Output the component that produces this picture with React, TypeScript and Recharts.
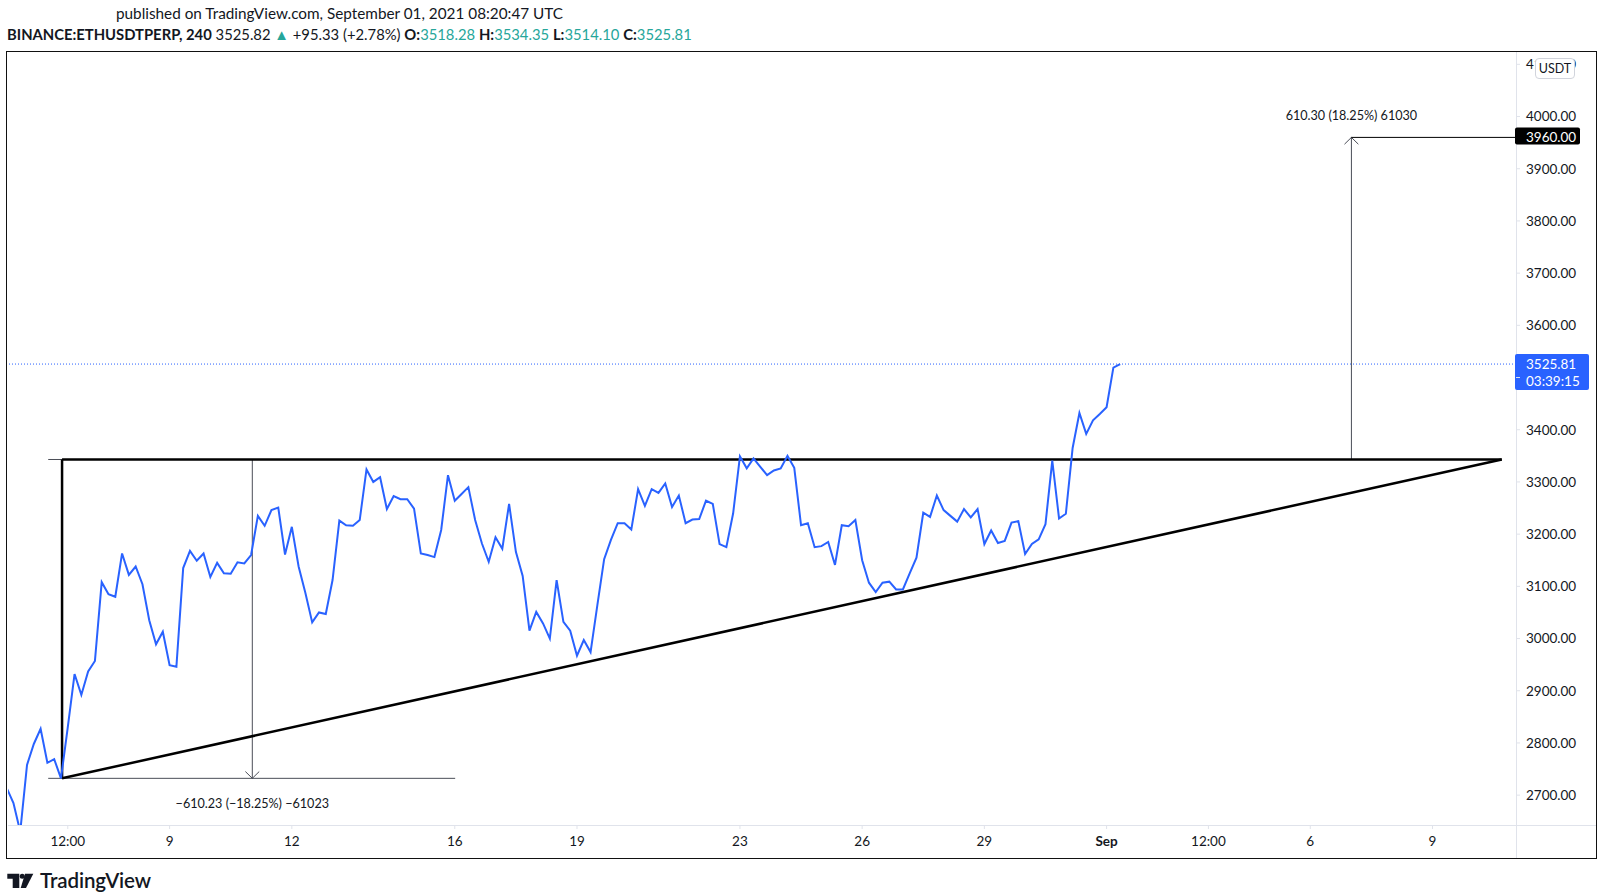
import { LineChart, Line, XAxis, YAxis, ReferenceLine, ReferenceDot } from 'recharts'

// ETHUSDTPERP 4h closes, Aug 5 00:00 -> Sep 1 08:00 (UTC)
const START_DAY = 4 // days since Aug 1
const STEP = 1 / 6 // 4 hours

const closes = [
  2714, 2685, 2630, 2758, 2798, 2827, 2762, 2769, 2732, 2830,
  2932, 2892, 2937, 2957, 3108, 3085, 3080, 3163, 3122, 3138,
  3104, 3035, 2989, 3013, 2949, 2946, 3135, 3168, 3149, 3163,
  3118, 3145, 3125, 3124, 3146, 3144, 3160, 3235, 3216, 3246,
  3251, 3161, 3214, 3138, 3087, 3031, 3050, 3047, 3112, 3226,
  3217, 3216, 3227, 3324, 3300, 3309, 3248, 3273, 3267, 3267,
  3249, 3163, 3160, 3156, 3208, 3313, 3264, 3277, 3290, 3227,
  3182, 3147, 3194, 3172, 3258, 3166, 3120, 3015, 3051, 3029,
  3000, 3112, 3032, 3015, 2967, 2997, 2974, 3064, 3152, 3189,
  3221, 3221, 3209, 3286, 3254, 3286, 3279, 3297, 3252, 3274,
  3221, 3228, 3229, 3264, 3258, 3181, 3175, 3240, 3349, 3326,
  3345, 3329, 3313, 3322, 3326, 3350, 3327, 3217, 3221, 3175,
  3177, 3185, 3141, 3217, 3215, 3227, 3150, 3107, 3089, 3107,
  3109, 3094, 3094, 3125, 3155, 3241, 3233, 3274, 3246, 3235,
  3224, 3248, 3232, 3248, 3181, 3207, 3183, 3187, 3222, 3225,
  3162, 3181, 3190, 3219, 3341, 3230, 3239, 3365, 3432, 3392,
  3418, 3430, 3443, 3519, 3525.81,
]

const xTicks = [5.5, 8, 11, 15, 18, 22, 25, 28, 31, 33.5, 36, 39]
const xTickLabels = ['12:00', '9', '12', '16', '19', '23', '26', '29', 'Sep', '12:00', '6', '9']
const yTicks = [2700, 2800, 2900, 3000, 3100, 3200, 3300, 3400, 3500, 3600, 3700, 3800, 3900, 4000, 4100]

// drawings (time in days since Aug 1, price in USDT)
const LAST_PRICE = 3525.81
const RESISTANCE = 3343
const TRI_LOW = 2732.2
const TRI_LEFT = 5.36
const TRI_RIGHT = 40.7
const DOWN_X = 10.03
const DOWN_FROM = 5.02
const DOWN_TO = 15.01
const UP_X = 37.01
const TARGET = 3960

const X_DOMAIN: [number, number] = [4.033, 41.05]
const Y_DOMAIN: [number, number] = [2642.8, 4123.6]

const data = closes.map((c, i) => ({ t: START_DAY + i * STEP, close: c }))

const FONT = 'Lato, "Noto Sans", sans-serif'
const TEXT = '#131722'
const GRID = '#e0e3eb'
const BLUE = '#2962ff'
const TEAL = '#26a69a'
const MEASURE = '#4a4d57'

const TimeTick = (props: any) => {
  const { x, y, payload } = props
  const i = xTicks.indexOf(payload.value)
  const label = i >= 0 ? xTickLabels[i] : ''
  return (
    <text x={x} y={y} dy="0.71em" textAnchor="middle" fontSize={13.5} fill={TEXT}
      fontWeight={label === 'Sep' ? 700 : 400} fontFamily={FONT}>
      {label}
    </text>
  )
}

// price labels hidden under the last-price tag are not drawn
const PriceTick = (props: any) => {
  const { x, y, payload } = props
  if (Math.abs(payload.value - LAST_PRICE) < 40) return <g />
  return (
    <text x={x} y={y} dy="0.36em" fontSize={13.5} fill={TEXT} fontFamily={FONT}>
      {payload.value.toFixed(2)}
    </text>
  )
}

const PriceTag = (props: any) => {
  const { viewBox, lines, bg } = props
  const x = viewBox.x + viewBox.width
  const y = viewBox.y
  const h = lines.length > 1 ? 36 : 17
  return (
    <g>
      <line x1={x} x2={x + 4} y1={y} y2={y} stroke={bg} />
      <rect x={x - 1} y={y - 10} width={lines.length > 1 ? 74 : 65} height={h} rx={2} fill={bg} />
      {lines.map((l: string, i: number) => (
        <text key={i} x={x + 10} y={y + i * 17} dy="0.36em" fontSize={13.5} fill="#fff" fontFamily={FONT}>
          {l}
        </text>
      ))}
    </g>
  )
}

const MeasureText = (props: any) => {
  const { viewBox, text, dy } = props
  return (
    <text x={viewBox.x + viewBox.width / 2} y={viewBox.y + viewBox.height / 2 + dy} dy="0.36em"
      textAnchor="middle" fontSize={12.6} fill={TEXT} fontFamily={FONT}>
      {text}
    </text>
  )
}

const seg = (x1: number, y1: number, x2: number, y2: number) => [
  { x: x1, y: y1 },
  { x: x2, y: y2 },
]

export default function App() {
  return (
    <div style={{ position: 'absolute', left: 0, top: 0, width: 1602, height: 895, background: '#fff', overflow: 'hidden', fontFamily: FONT, color: TEXT }}>
      <div style={{ position: 'absolute', left: 116, top: 4, fontSize: 15.3, whiteSpace: 'nowrap' }}>
        published on TradingView.com, September 01, 2021 08:20:47 UTC
      </div>
      <div style={{ position: 'absolute', left: 7, top: 25, fontSize: 14.8, whiteSpace: 'nowrap' }}>
        <b>BINANCE:ETHUSDTPERP, 240</b>
        <span> 3525.82 </span>
        <span style={{ color: TEAL }}>▲</span>
        <span> +95.33 (+2.78%) </span>
        <b>O:</b><span style={{ color: TEAL }}>3518.28 </span>
        <b>H:</b><span style={{ color: TEAL }}>3534.35 </span>
        <b>L:</b><span style={{ color: TEAL }}>3514.10 </span>
        <b>C:</b><span style={{ color: TEAL }}>3525.81</span>
      </div>

      {/* pane frame and axis separators */}
      <div style={{ position: 'absolute', left: 6, top: 51, width: 1589, height: 806, border: '1.5px solid #111' }} />
      <div style={{ position: 'absolute', left: 1516, top: 52, width: 1, height: 806, background: GRID }} />
      <div style={{ position: 'absolute', left: 8, top: 825, width: 1588, height: 1, background: GRID }} />

      <LineChart width={1602} height={895} data={data} margin={{ top: 52, right: 6, bottom: 37, left: 8 }}
        style={{ position: 'absolute', left: 0, top: 0 }}>
        <XAxis dataKey="t" type="number" domain={X_DOMAIN} ticks={xTicks} interval={0} allowDataOverflow
          axisLine={false} tickSize={4} tickMargin={7} tickLine={{ stroke: GRID }} height={33} tick={<TimeTick />} />
        <YAxis orientation="right" type="number" domain={Y_DOMAIN} ticks={yTicks} interval={0} allowDataOverflow width={80}
          axisLine={false} tickSize={4} tickMargin={6} tickLine={{ stroke: GRID }} tick={<PriceTick />} />

        <ReferenceLine y={LAST_PRICE} stroke={BLUE} strokeDasharray="1 2" ifOverflow="visible"
          label={<PriceTag lines={['3525.81', '03:39:15']} bg={BLUE} />} />

        {/* measure: down */}
        <ReferenceLine segment={seg(DOWN_FROM, RESISTANCE, DOWN_TO, RESISTANCE)} stroke={MEASURE} ifOverflow="visible" />
        <ReferenceLine segment={seg(DOWN_FROM, TRI_LOW, DOWN_TO, TRI_LOW)} stroke={MEASURE} ifOverflow="visible" />
        <ReferenceLine segment={seg(DOWN_X, RESISTANCE, DOWN_X, TRI_LOW)} stroke={MEASURE} ifOverflow="visible" />
        <ReferenceLine segment={seg(DOWN_X - 0.17, TRI_LOW + 13, DOWN_X, TRI_LOW)} stroke={MEASURE} ifOverflow="visible" />
        <ReferenceLine segment={seg(DOWN_X + 0.17, TRI_LOW + 13, DOWN_X, TRI_LOW)} stroke={MEASURE} ifOverflow="visible" />
        <ReferenceDot x={DOWN_X} y={TRI_LOW} r={1} fill="none" stroke="none" ifOverflow="visible"
          label={<MeasureText text="−610.23 (−18.25%) −61023" dy={25} />} />

        {/* measure: up */}
        <ReferenceLine segment={seg(UP_X, RESISTANCE, UP_X, TARGET)} stroke={MEASURE} ifOverflow="visible" />
        <ReferenceLine segment={seg(UP_X - 0.17, TARGET - 13, UP_X, TARGET)} stroke={MEASURE} ifOverflow="visible" />
        <ReferenceLine segment={seg(UP_X + 0.17, TARGET - 13, UP_X, TARGET)} stroke={MEASURE} ifOverflow="visible" />
        <ReferenceLine segment={seg(UP_X, TARGET, X_DOMAIN[1], TARGET)} stroke="#000" ifOverflow="visible"
          label={<PriceTag lines={['3960.00']} bg="#000" />} />
        <ReferenceDot x={UP_X} y={TARGET} r={1} fill="none" stroke="none" ifOverflow="visible"
          label={<MeasureText text="610.30 (18.25%) 61030" dy={-22} />} />

        {/* ascending triangle */}
        <ReferenceLine segment={seg(TRI_LEFT, RESISTANCE, TRI_RIGHT, RESISTANCE)} stroke="#000" strokeWidth={2.5} ifOverflow="visible" />
        <ReferenceLine segment={seg(TRI_LEFT, TRI_LOW, TRI_LEFT, RESISTANCE)} stroke="#000" strokeWidth={2.5} ifOverflow="visible" />
        <ReferenceLine segment={seg(TRI_LEFT, TRI_LOW, TRI_RIGHT, RESISTANCE)} stroke="#000" strokeWidth={2.5} ifOverflow="visible" />

        <Line dataKey="close" type="linear" stroke={BLUE} strokeWidth={2} dot={false} isAnimationActive={false} />
      </LineChart>

      {/* currency badge */}
      <div style={{ position: 'absolute', left: 1535, top: 58, width: 40, height: 21, boxSizing: 'border-box', border: '1px solid #d1d4dc', borderRadius: 4, background: '#fff', fontSize: 12.5, lineHeight: '19px', textAlign: 'center' }}>
        USDT
      </div>

      {/* footer logo */}
      <svg style={{ position: 'absolute', left: 0, top: 868 }} width={40} height={24}>
        <path d="M7.3 5.7 H19.3 V20 H12.7 V10.7 H7.3 Z" fill={TEXT} />
        <circle cx={22.2} cy={8.2} r={2.5} fill={TEXT} />
        <path d="M25 5.7 H33.3 L26 20 H20.7 Z" fill={TEXT} />
      </svg>
      <div style={{ position: 'absolute', left: 40, top: 868, fontSize: 20.5, fontWeight: 600, letterSpacing: -0.1, whiteSpace: 'nowrap' }}>
        TradingView
      </div>
    </div>
  )
}
